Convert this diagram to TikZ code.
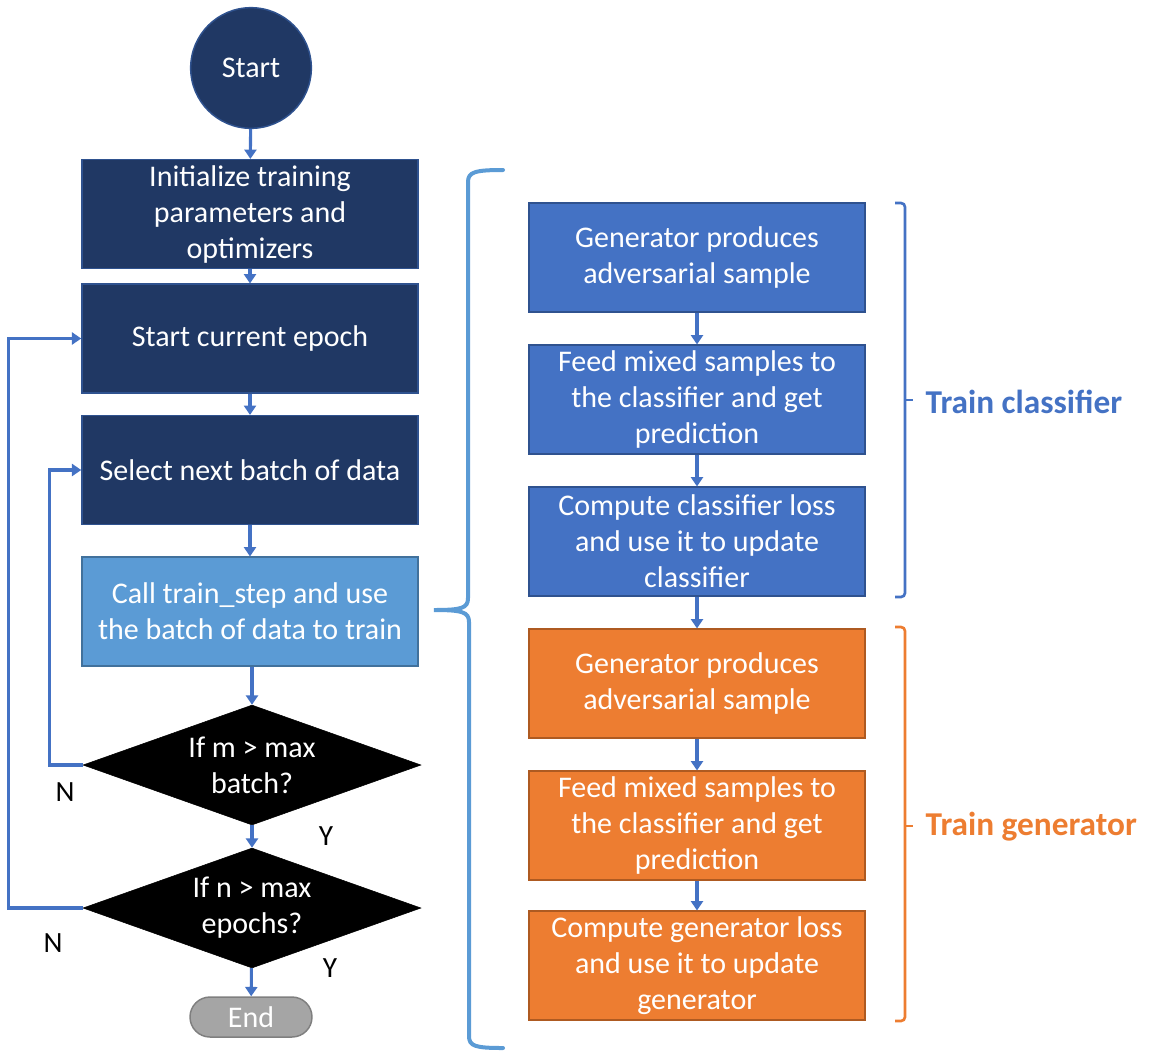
\documentclass[tikz,border=0pt]{standalone}
\usepackage{fontspec}
\setmainfont{Carlito}
\usetikzlibrary{shapes.geometric,arrows.meta}

\definecolor{navy}{HTML}{203864}
\definecolor{navyedge}{HTML}{2F528F}
\definecolor{accblue}{HTML}{4472C4}
\definecolor{lightblue}{HTML}{5B9BD5}
\definecolor{lightedge}{HTML}{41719C}
\definecolor{accorange}{HTML}{ED7D31}
\definecolor{orangeedge}{HTML}{AE5A21}
\definecolor{endgray}{HTML}{A5A5A5}
\definecolor{endedge}{HTML}{7F7F7F}

\tikzset{
  x=0.75pt, y=-0.75pt,
  boxtext/.style={text=white, align=center, font=\fontsize{22.5}{27}\selectfont},
  stepbox/.style={boxtext, rectangle, draw, line width=1.1pt, minimum width=252pt, minimum height=81.5pt, inner sep=0pt},
  navybox/.style={stepbox, fill=navy, draw=navyedge},
  callbox/.style={stepbox, fill=lightblue, draw=lightedge},
  clsbox/.style={stepbox, fill=accblue, draw=navyedge},
  genbox/.style={stepbox, fill=accorange, draw=orangeedge},
  decision/.style={diamond, fill=black, draw=black, minimum width=253.5pt, minimum height=90pt, inner sep=0pt},
  flow/.style={draw=accblue, line width=2.3pt, -{Triangle[width=9pt,length=7pt]}},
  yn/.style={font=\fontsize{22}{26}\selectfont, text=black},
  grouplabel/.style={font=\fontsize{25}{29}\selectfont\bfseries, anchor=west},
}

\begin{document}
\begin{tikzpicture}
\useasboundingbox (0,0) rectangle (1149,1051);

% left column: main training loop
\node[circle, fill=navy, draw=navyedge, line width=1.1pt, minimum size=90.5pt, boxtext] (start) at (251,68) {Start};
\node[navybox] (init) at (250,214) {Initialize training\\parameters and\\optimizers};
\node[navybox] (epoch) at (250,338.5) {Start current epoch};
\node[navybox] (batch) at (250,470) {Select next batch of data};
\node[callbox] (call) at (250,611.5) {Call train\_step and use\\the batch of data to train};
\node[decision, label={[boxtext]center:If m > max\\batch?}] (dm) at (252,765) {};
\node[decision, label={[boxtext]center:If n > max\\epochs?}] (dn) at (252,908) {};
\node[rectangle, rounded corners=15pt, fill=endgray, draw=endedge, line width=1.1pt, minimum width=91.5pt, minimum height=30pt, boxtext] (end) at (251,1017) {End};

\draw[flow] (start) -- (init);
\draw[flow] (init) -- (epoch);
\draw[flow] (epoch) -- (batch);
\draw[flow] (batch) -- (call);
\draw[flow] (call.south -| dm.north) -- (dm.north);
\draw[flow] (dm) -- (dn);
\draw[flow] (dn) -- (end);
\draw[flow] (dm.west) -- ++(-33,0) |- (batch.west);
\draw[flow] (dn.west) -- ++(-74,0) |- (epoch.west);

\node[yn] (nm) at (65,792) {N};
\node[yn] (ym) at (326,836) {Y};
\node[yn] (nn) at (53,943) {N};
\node[yn] (yn2) at (330,968) {Y};

% brace grouping the steps of train_step
\draw[lightblue, line width=3pt, line cap=round]
  (503,170) .. controls (475,170) and (468,172) .. (468,182)
  -- (468,598) .. controls (468,608) and (462,610) .. (434,610)
  .. controls (462,610) and (469,612) .. (469,622)
  -- (469,1036) .. controls (469,1046) and (475,1048) .. (503,1048);

% right column: classifier and generator phases
\node[clsbox] (c1) at (697,257.5) {Generator produces\\adversarial sample};
\node[clsbox] (c2) at (697,399.5) {Feed mixed samples to\\the classifier and get\\prediction};
\node[clsbox] (c3) at (697,541.5) {Compute classifier loss\\and use it to update\\classifier};
\node[genbox] (g1) at (697,683.5) {Generator produces\\adversarial sample};
\node[genbox] (g2) at (697,825.5) {Feed mixed samples to\\the classifier and get\\prediction};
\node[genbox] (g3) at (697,965.5) {Compute generator loss\\and use it to update\\generator};

\draw[flow] (c1) -- (c2);
\draw[flow] (c2) -- (c3);
\draw[flow] (c3) -- (g1);
\draw[flow] (g1) -- (g2);
\draw[flow] (g2) -- (g3);

% phase brackets
\draw[accblue, line width=2pt, rounded corners=3pt]
  (895,203) -- (905,203) -- (905,597) -- (895,597);
\draw[accblue, line width=2pt] (905,400) -- (913,400);
\node[grouplabel, text=accblue] (tc) at (921,402) {Train classifier};

\draw[accorange, line width=2pt, rounded corners=3pt]
  (895,627) -- (905,627) -- (905,1021) -- (895,1021);
\draw[accorange, line width=2pt] (905,826) -- (913,826);
\node[grouplabel, text=accorange] (tg) at (921,827) {Train generator};
\end{tikzpicture}
\end{document}
